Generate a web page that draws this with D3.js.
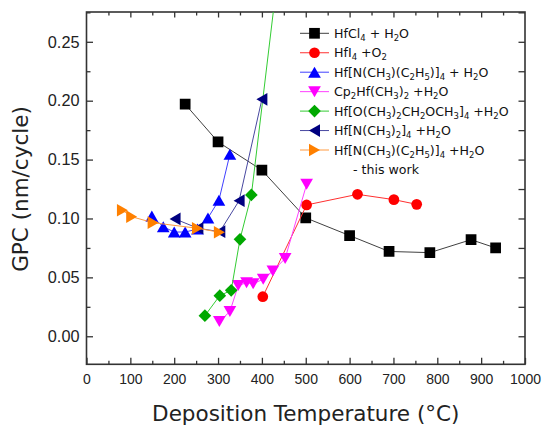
<!DOCTYPE html>
<html>
<head>
<meta charset="utf-8">
<script src="https://cdn.jsdelivr.net/npm/d3@7"></script>
<style>
  html, body { margin: 0; padding: 0; background: #fff; }
  svg { display: block; font-family: "DejaVu Sans", Verdana, sans-serif; }
</style>
</head>
<body>
<svg id="chart" width="547" height="426"></svg>
<script>
// Growth per cycle of HfO2 ALD vs. deposition temperature for several precursors
const xTicks = [0, 100, 200, 300, 400, 500, 600, 700, 800, 900, 1000];
const yTicks = [0.00, 0.05, 0.10, 0.15, 0.20, 0.25];

const hfcl4T = [225, 300, 400, 500, 600, 690, 783, 877, 933];
const hfcl4G = [0.197, 0.165, 0.141, 0.1005, 0.0855, 0.072, 0.071, 0.082, 0.075];

const hfi4T = [402, 502, 618, 701, 753];
const hfi4G = [0.0336, 0.1115, 0.1205, 0.116, 0.112];

const temahT = [149, 175, 200, 225, 253, 277, 302, 327];
const temahG = [0.102, 0.093, 0.0885, 0.0885, 0.091, 0.1005, 0.1155, 0.1545];

const cp2T = [303, 327, 346, 365, 380, 403, 425, 453, 502];
const cp2G = [0.0125, 0.021, 0.043, 0.0455, 0.0445, 0.0485, 0.0555, 0.066, 0.129];

const mmpT = [270, 304, 330, 350, 376, 450];
const mmpG = [0.0175, 0.0345, 0.039, 0.0823, 0.120, 0.350];

const tdmahT = [202, 254, 304, 348, 400];
const tdmahG = [0.0996, 0.0917, 0.0888, 0.1151, 0.2012];

const thisT = [82, 103, 152, 253, 303];
const thisG = [0.107, 0.1015, 0.0964, 0.0917, 0.0883];

const labels = [
  "HfCl_4 + H_2O",
  "HfI_4 +O_2",
  "Hf[N(CH_3)(C_2H_5)]_4 + H_2O",
  "Cp_2Hf(CH_3)_2 +H_2O",
  "Hf[O(CH_3)_2CH_2OCH_3]_4 +H_2O",
  "Hf[N(CH_3)_2]_4 +H_2O",
  "Hf[N(CH_3)(C_2H_5)]_4 +H_2O"
];
const note = "- this work";

// Marker shapes centred on their bounding box
const sq = { draw(c, s) { const h = Math.sqrt(s) / 2; c.rect(-h, -h, 2 * h, 2 * h); } };
const circ = { draw(c, s) { const r = Math.sqrt(s / Math.PI); c.moveTo(r, 0); c.arc(0, 0, r, 0, 2 * Math.PI); } };
function tri(dir) {
  return { draw(c, s) {
    const w = Math.sqrt(s * 4 / Math.sqrt(3)) , h = w * Math.sqrt(3) / 2;
    const pts = {
      up:    [[0, -h / 2], [w / 2, h / 2], [-w / 2, h / 2]],
      down:  [[0, h / 2], [w / 2, -h / 2], [-w / 2, -h / 2]],
      left:  [[-h / 2, 0], [h / 2, -w / 2], [h / 2, w / 2]],
      right: [[h / 2, 0], [-h / 2, -w / 2], [-h / 2, w / 2]]
    }[dir];
    c.moveTo(pts[0][0], pts[0][1]); c.lineTo(pts[1][0], pts[1][1]); c.lineTo(pts[2][0], pts[2][1]); c.closePath();
  } };
}
const diam = { draw(c, s) { const r = Math.sqrt(s / 2); c.moveTo(0, -r); c.lineTo(r, 0); c.lineTo(0, r); c.lineTo(-r, 0); c.closePath(); } };

const series = [
  { t: hfcl4T, g: hfcl4G, fill: "#000000", line: "#404040", shape: sq, size: 115 },
  { t: hfi4T, g: hfi4G, fill: "#ff0000", line: "#ff3030", shape: circ, size: 90 },
  { t: temahT, g: temahG, fill: "#0000ff", line: "#4040ff", shape: tri("up"), size: 70 },
  { t: cp2T, g: cp2G, fill: "#ff00ff", line: "#ff40ff", shape: tri("down"), size: 70 },
  { t: mmpT, g: mmpG, fill: "#00a800", line: "#33cc33", shape: diam, size: 80 },
  { t: tdmahT, g: tdmahG, fill: "#000080", line: "#4848a0", shape: tri("left"), size: 70 },
  { t: thisT, g: thisG, fill: "#ff8000", line: "#ff9a40", shape: tri("right"), size: 70 }
];

const svg = d3.select("#chart");
const L = 86.5, R = 525, T = 12, B = 364.3;
const x = d3.scaleLinear().domain([0, 1000]).range([L, R]);
const y = d3.scaleLinear().domain([-0.0238, 0.2753]).range([B, T]);

svg.append("defs").append("clipPath").attr("id", "plotArea")
  .append("rect").attr("x", L).attr("y", T).attr("width", R - L).attr("height", B - T);

const axisColor = "#333";

// Bottom axis: labels at every 100, minor ticks at every 50
const xMinor = d3.range(50, 1000, 100);
const yMinor = d3.range(-0.025, 0.276, 0.05).filter(v => v > -0.024);
const yAll = d3.range(0, 0.276, 0.025);

const gx = svg.append("g").attr("transform", `translate(0,${B})`)
  .call(d3.axisBottom(x).tickValues(xTicks).tickSize(-6.5).tickPadding(10).tickFormat(d3.format("d")));
gx.selectAll(".tick text").attr("font-size", 14).attr("fill", "#222").attr("dy", "0.71em");
gx.append("g").call(d3.axisBottom(x).tickValues(xMinor).tickSize(-3.5).tickFormat(""));

const gy = svg.append("g").attr("transform", `translate(${L},0)`)
  .call(d3.axisLeft(y).tickValues(yTicks).tickSize(-6.5).tickPadding(7).tickFormat(d3.format(".2f")));
gy.selectAll(".tick text").attr("font-size", 16.3).attr("fill", "#222");
gy.append("g").call(d3.axisLeft(y).tickValues(yMinor).tickSize(-4).tickFormat(""));

const gt = svg.append("g").attr("transform", `translate(0,${T})`)
  .call(d3.axisTop(x).tickValues(xTicks.filter(v => v > 0 && v < 1000)).tickSize(-5.5).tickFormat(""));
gt.append("g").call(d3.axisTop(x).tickValues(xMinor).tickSize(-3.5).tickFormat(""));

const gr = svg.append("g").attr("transform", `translate(${R},0)`)
  .call(d3.axisRight(y).tickValues(yAll).tickSize(-6.5).tickFormat(""));

svg.selectAll(".domain").remove();
svg.selectAll(".tick line").attr("stroke", axisColor).attr("stroke-width", 1.3);

svg.append("rect").attr("x", L).attr("y", T).attr("width", R - L).attr("height", B - T)
  .attr("fill", "none").attr("stroke", axisColor).attr("stroke-width", 1.6);

// Data series
const plot = svg.append("g").attr("clip-path", "url(#plotArea)");
const line = d3.line().x(d => x(d[0])).y(d => y(d[1]));

series.forEach(s => {
  const pts = s.t.map((t, i) => [t, s.g[i]]);
  const g = plot.append("g");
  g.append("path").datum(pts).attr("d", line)
    .attr("fill", "none").attr("stroke", s.line).attr("stroke-width", 1);
  g.selectAll("path.m").data(pts).join("path").attr("class", "m")
    .attr("transform", d => `translate(${x(d[0])},${y(d[1])})`)
    .attr("d", d3.symbol().type(s.shape).size(s.size))
    .attr("fill", s.fill);
});

// Legend
function richText(sel, str) {
  const parts = str.split(/(_\d)/).filter(p => p.length);
  let sub = false;
  parts.forEach(p => {
    if (p[0] === "_") {
      sel.append("tspan").attr("font-size", 8.5).attr("dy", sub ? 0 : 3).text(p.slice(1));
      sub = true;
    } else {
      sel.append("tspan").attr("dy", sub ? -3 : 0).text(p);
      sub = false;
    }
  });
}

const lg = svg.append("g");
const rowY = i => 33.3 + i * 19.45;
series.forEach((s, i) => {
  const cy = rowY(i);
  lg.append("line").attr("x1", 300).attr("x2", 329).attr("y1", cy).attr("y2", cy)
    .attr("stroke", s.line).attr("stroke-width", 1);
  lg.append("path").attr("transform", `translate(314.5,${cy})`)
    .attr("d", d3.symbol().type(s.shape).size(s.size)).attr("fill", s.fill);
  const t = lg.append("text").attr("x", 334).attr("y", cy + 4.6).attr("font-size", 12.6).attr("fill", "#111");
  richText(t, labels[i]);
});
lg.append("text").attr("x", 353).attr("y", rowY(7) + 4.6).attr("font-size", 12.6).attr("fill", "#111").text(note);

// Axis titles
svg.append("text").attr("x", (L + R) / 2).attr("y", 421).attr("text-anchor", "middle")
  .attr("font-size", 21.5).attr("fill", "#222").text("Deposition Temperature (°C)");
svg.append("text").attr("transform", "translate(28,189) rotate(-90)").attr("text-anchor", "middle")
  .attr("font-size", 21.5).attr("fill", "#222").text("GPC (nm/cycle)");
</script>
</body>
</html>
